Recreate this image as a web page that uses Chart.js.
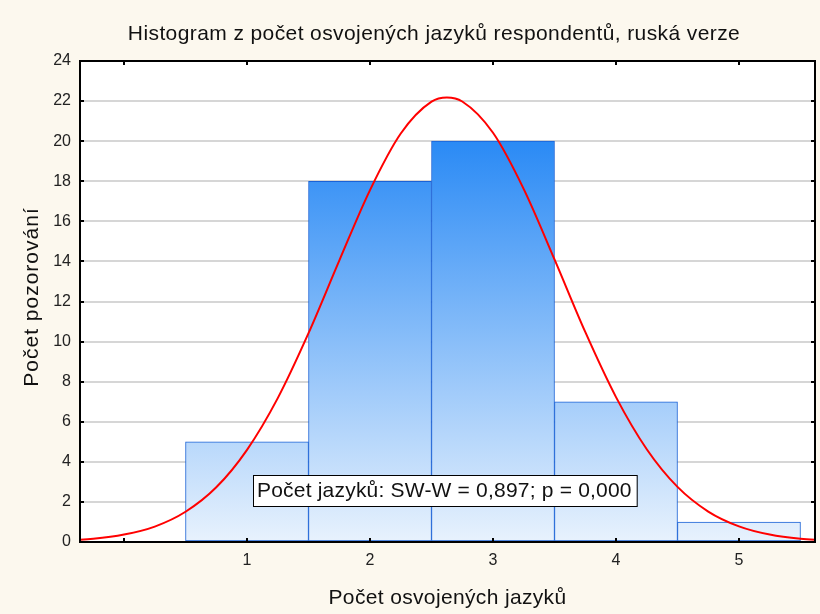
<!DOCTYPE html>
<html>
<head>
<meta charset="utf-8">
<script src="https://cdn.jsdelivr.net/npm/chart.js@4"></script>
<style>
  html, body { margin: 0; padding: 0; background: #fcf8ee; }
  #wrap { width: 820px; height: 614px; }
</style>
</head>
<body>
<div id="wrap"><canvas id="histChart" width="820" height="614"></canvas></div>
<script>
// bins (number of languages) and observed counts
const binCenters = [1, 2, 3, 4, 5];
const binCounts = [5, 18, 20, 7, 1];

// fitted normal curve
const curveX = [-0.5, -0.25, 0, 0.25, 0.5, 0.75, 1, 1.25, 1.5, 1.75, 2, 2.25, 2.5, 2.625, 2.75, 3, 3.25, 3.5, 3.75, 4, 4.25, 4.5, 4.75, 5, 5.25, 5.5, 5.75];
const curveY = [0.07, 0.16, 0.37, 0.77, 1.51, 2.73, 4.6, 7.18, 10.42, 14.04, 17.56, 20.38, 21.97, 22.18, 21.98, 20.42, 17.61, 14.1, 10.48, 7.23, 4.63, 2.75, 1.52, 0.78, 0.37, 0.16, 0.07];

const xTicks = [0, 1, 2, 3, 4, 5];
const yTicks = [0, 2, 4, 6, 8, 10, 12, 14, 16, 18, 20, 22, 24];

const titleText = 'Histogram z počet osvojených jazyků respondentů, ruská verze';
const xTitle = 'Počet osvojených jazyků';
const yTitle = 'Počet pozorování';
const noteText = 'Počet jazyků: SW-W = 0,897; p = 0,000';

const FONT = '"Liberation Sans", Arial, sans-serif';

function barGradient(context) {
  const chart = context.chart;
  const area = chart.chartArea;
  if (!area) return '#7fb8f8';
  const y = chart.scales.y;
  const g = chart.ctx.createLinearGradient(0, y.getPixelForValue(20), 0, y.getPixelForValue(0));
  g.addColorStop(0, '#2a8af5');
  g.addColorStop(1, '#e8f2fd');
  return g;
}

const framePlugin = {
  id: 'frame',
  beforeDraw(chart) {
    const { ctx, chartArea: a } = chart;
    ctx.save();
    ctx.fillStyle = '#fcf8ee';
    ctx.fillRect(0, 0, chart.width, chart.height);
    ctx.fillStyle = '#ffffff';
    ctx.fillRect(a.left, a.top, a.right - a.left, a.bottom - a.top);
    ctx.restore();
  },
  afterDraw(chart) {
    const { ctx, chartArea: a, scales } = chart;
    ctx.save();
    // titles
    ctx.fillStyle = '#111';
    ctx.textAlign = 'center';
    ctx.textBaseline = 'middle';
    ctx.font = '21px ' + FONT;
    ctx.letterSpacing = '0.4px';
    ctx.fillText(titleText, 434, 34);
    ctx.letterSpacing = '0.35px';
    ctx.fillText(xTitle, (a.left + a.right) / 2, 598);
    ctx.save();
    ctx.translate(32, 297);
    ctx.rotate(-Math.PI / 2);
    ctx.letterSpacing = '1px';
    ctx.fillText(yTitle, 0, 0);
    ctx.restore();
    ctx.letterSpacing = '0px';

    // frame
    ctx.strokeStyle = '#000';
    ctx.lineWidth = 2;
    ctx.strokeRect(a.left, a.top, a.right - a.left, a.bottom - a.top);

    // inward tick marks on all four sides
    ctx.beginPath();
    xTicks.forEach(v => {
      const px = Math.round(scales.x.getPixelForValue(v));
      ctx.moveTo(px, a.bottom); ctx.lineTo(px, a.bottom - 4);
      ctx.moveTo(px, a.top); ctx.lineTo(px, a.top + 4);
    });
    yTicks.forEach(v => {
      const py = Math.round(scales.y.getPixelForValue(v));
      ctx.moveTo(a.left, py); ctx.lineTo(a.left + 4, py);
      ctx.moveTo(a.right, py); ctx.lineTo(a.right - 4, py);
    });
    ctx.stroke();

    // Shapiro-Wilk note
    ctx.font = '21px ' + FONT;
    ctx.textAlign = 'left';
    ctx.letterSpacing = '0.2px';
    const w = ctx.measureText(noteText).width + 9;
    const bx = 253, by = 475, bh = 31;
    ctx.fillStyle = '#ffffff';
    ctx.fillRect(bx, by, w, bh);
    ctx.lineWidth = 1;
    ctx.strokeStyle = '#000';
    ctx.strokeRect(bx + 0.5, by + 0.5, w, bh);
    ctx.fillStyle = '#111';
    ctx.fillText(noteText, bx + 4, by + bh / 2 + 1);
    ctx.restore();
  }
};

const ctxHist = document.getElementById('histChart').getContext('2d');

new Chart(ctxHist, {
  type: 'bar',
  data: {
    datasets: [
      {
        type: 'line',
        label: 'Normal',
        data: curveX.map((x, i) => ({ x, y: curveY[i] })),
        borderColor: '#ff0000',
        borderWidth: 2,
        pointRadius: 0,
        fill: false,
        cubicInterpolationMode: 'monotone',
        clip: 0,
        order: 0,
      },
      {
        label: 'Počet',
        data: binCenters.map((x, i) => ({ x, y: binCounts[i] })),
        backgroundColor: barGradient,
        borderColor: '#1a62d6',
        borderWidth: 1,
        borderSkipped: false,
        barPercentage: 1,
        categoryPercentage: 1,
        order: 1,
      },
    ],
  },
  options: {
    responsive: false,
    animation: false,
    events: [],
    layout: { padding: { top: 61, right: 5, left: 0, bottom: 0 } },
    plugins: {
      legend: { display: false },
      title: { display: false },
      tooltip: { enabled: false },
    },
    scales: {
      x: {
        type: 'linear',
        offset: false,
        min: -0.358,
        max: 5.618,
        afterBuildTicks(scale) { scale.ticks = xTicks.map(v => ({ value: v })); },
        afterFit(scale) { scale.height = 72; },
        grid: { display: false, drawTicks: false, offset: false },
        border: { display: false },
        ticks: {
          color: '#222',
          font: { family: FONT, size: 16 },
          padding: 9,
          callback(value) { return value >= 1 ? String(value) : ''; },
        },
      },
      y: {
        min: 0,
        max: 24,
        afterBuildTicks(scale) { scale.ticks = yTicks.map(v => ({ value: v })); },
        afterFit(scale) { scale.width = 80; },
        grid: {
          drawTicks: false,
          lineWidth: 2,
          color(c) { return (c.tick.value === 0 || c.tick.value === 24) ? 'rgba(0,0,0,0)' : '#d6d6d6'; },
        },
        border: { display: false },
        ticks: {
          color: '#222',
          font: { family: FONT, size: 16 },
          padding: 9,
        },
      },
    },
  },
  plugins: [framePlugin],
});
</script>
</body>
</html>
